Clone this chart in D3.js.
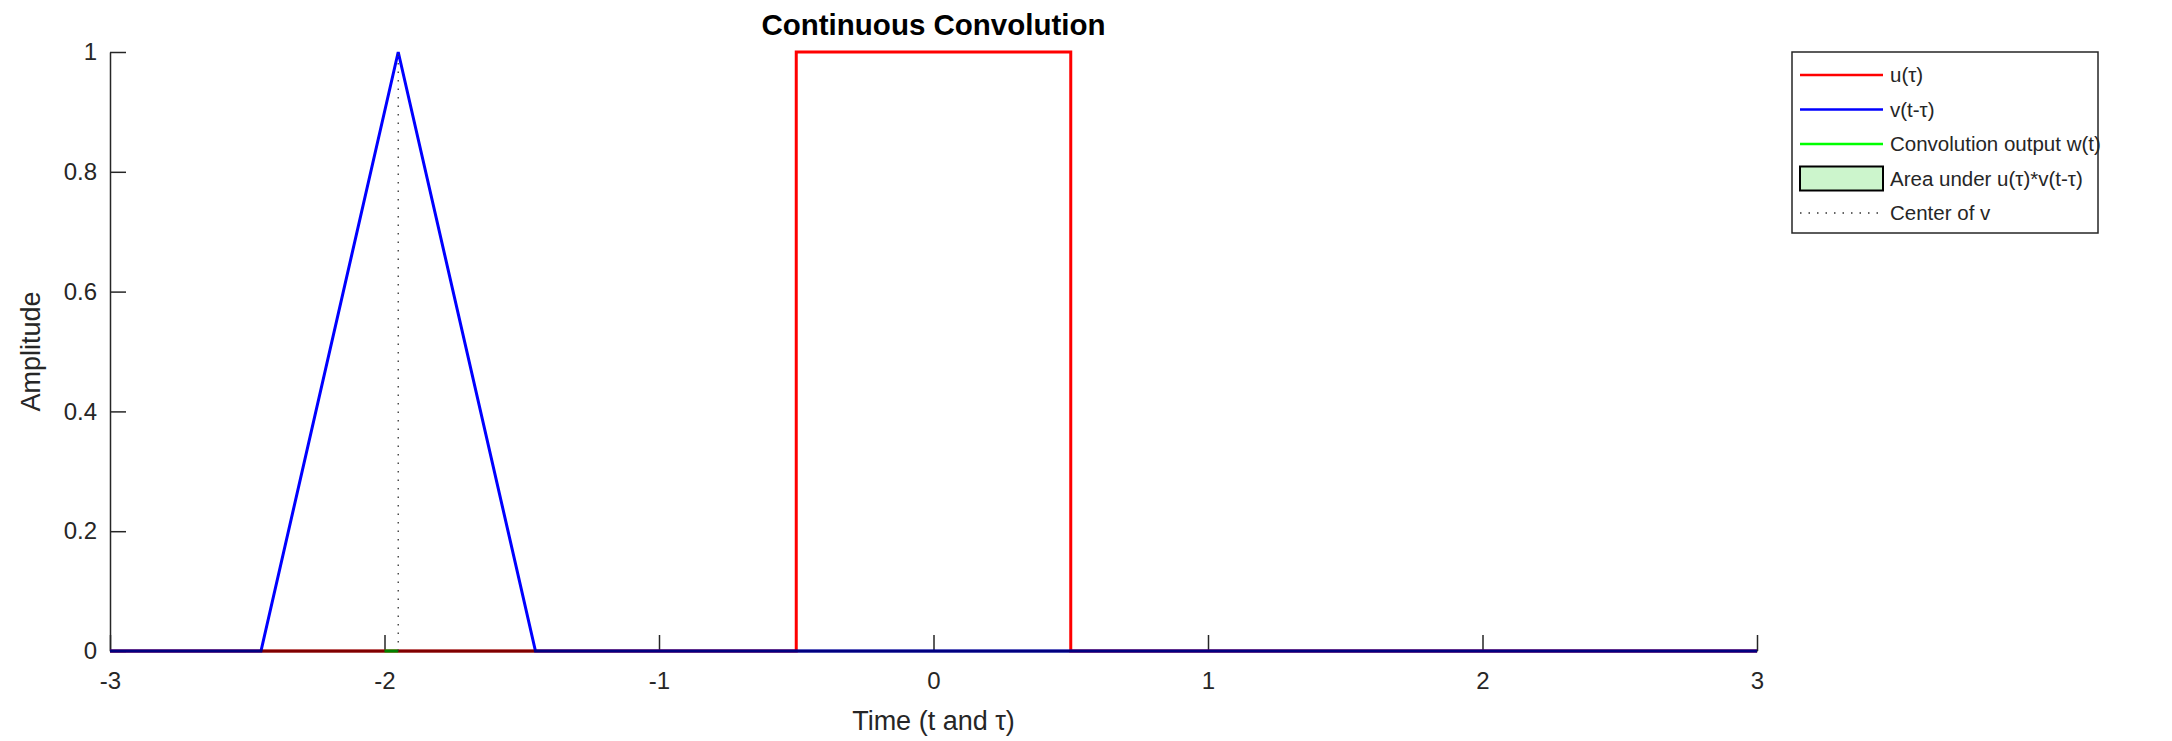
<!DOCTYPE html>
<html>
<head>
<meta charset="utf-8">
<script src="https://cdn.jsdelivr.net/npm/d3@7"></script>
<style>
  body { margin: 0; background: #fff; }
  text { font-family: "Liberation Sans", Arial, sans-serif; }
</style>
</head>
<body>
<svg id="chart"></svg>
<script>
// data
const xTicks = [-3, -2, -1, 0, 1, 2, 3];
const xTickLabels = ["-3", "-2", "-1", "0", "1", "2", "3"];
const yTicks = [0, 0.2, 0.4, 0.6, 0.8, 1];
const yTickLabels = ["0", "0.2", "0.4", "0.6", "0.8", "1"];

const uTau = [-3, -0.5, -0.5, 0.5, 0.5, 3];      // u(tau), rect pulse
const uVal = [0, 0, 1, 1, 0, 0];
const vTau = [-3, -2.45, -1.95, -1.45, 3];       // v(t - tau), triangle
const vVal = [0, 0, 1, 0, 0];
const wT = [-2, -1.95];                          // convolution output so far
const wVal = [0, 0];
const areaTau = [-3, 3];                         // u*v product (no overlap yet)
const areaVal = [0, 0];
const tNow = -1.95;

const legendLabels = ["u(\u03c4)", "v(t-\u03c4)", "Convolution output w(t)",
                      "Area under u(\u03c4)*v(t-\u03c4)", "Center of v"];

const width = 2172, height = 741;
const svg = d3.select("#chart").attr("width", width).attr("height", height);

const x = d3.scaleLinear().domain([-3, 3]).range([110, 1757]);
const y = d3.scaleLinear().domain([0, 1]).range([651, 52]);
const axisCol = "#262626";

function pts(xs, ys) { return xs.map((d, i) => [d, ys[i]]); }
const line = d3.line().x(d => x(d[0])).y(d => y(d[1]));

// axes (box off, ticks inward)
const xAxis = svg.append("g").attr("transform", `translate(0,${y(0)})`)
  .call(d3.axisBottom(x).tickValues(xTicks).tickFormat((d, i) => xTickLabels[i])
        .tickSizeInner(-16).tickSizeOuter(0).tickPadding(21));
const yAxis = svg.append("g").attr("transform", `translate(${x(-3)},0)`)
  .call(d3.axisLeft(y).tickValues(yTicks).tickFormat((d, i) => yTickLabels[i])
        .tickSizeInner(-16).tickSizeOuter(0).tickPadding(13));
[xAxis, yAxis].forEach(a => {
  a.select(".domain").attr("stroke", axisCol).attr("stroke-width", 1.5);
  a.selectAll(".tick line").attr("stroke", axisCol).attr("stroke-width", 1.5);
  a.selectAll(".tick text").attr("fill", axisCol).attr("font-size", 24)
    .attr("font-family", "Liberation Sans, Arial, sans-serif");
});

// series
svg.append("path").datum(pts(uTau, uVal)).attr("d", line)
  .attr("fill", "none").attr("stroke", "#ff0000").attr("stroke-width", 3);
svg.append("path").datum(pts(vTau, vVal)).attr("d", line)
  .attr("fill", "none").attr("stroke", "#0000ff").attr("stroke-width", 3);
svg.append("path").datum(pts(wT, wVal)).attr("d", line)
  .attr("fill", "none").attr("stroke", "#00ff00").attr("stroke-width", 3);

// area patch (flat here), semi transparent edge darkens what is below
const area = d3.area().x(d => x(d[0])).y0(y(0)).y1(d => y(d[1]));
svg.append("path").datum(pts(areaTau, areaVal)).attr("d", area)
  .attr("fill", "#00cc00").attr("fill-opacity", 0.2)
  .attr("stroke", "#000").attr("stroke-opacity", 0.5).attr("stroke-width", 3);

// center of v
svg.append("line").attr("x1", x(tNow)).attr("x2", x(tNow))
  .attr("y1", y(0)).attr("y2", y(1))
  .attr("stroke", "#333").attr("stroke-width", 1.3).attr("stroke-dasharray", "1.5,7");

// title and labels
svg.append("text").attr("x", (x(-3) + x(3)) / 2).attr("y", 35)
  .attr("text-anchor", "middle").attr("font-size", 29.5).attr("font-weight", "bold")
  .attr("fill", "#000").text("Continuous Convolution");
svg.append("text").attr("x", (x(-3) + x(3)) / 2).attr("y", 730)
  .attr("text-anchor", "middle").attr("font-size", 27).attr("fill", axisCol)
  .text("Time (t and \u03c4)");
svg.append("text").attr("transform", `translate(40,${(y(0) + y(1)) / 2}) rotate(-90)`)
  .attr("text-anchor", "middle").attr("font-size", 27).attr("fill", axisCol)
  .text("Amplitude");

// legend
const lg = svg.append("g");
lg.append("rect").attr("x", 1792).attr("y", 52).attr("width", 306).attr("height", 181)
  .attr("fill", "#fff").attr("stroke", axisCol).attr("stroke-width", 1.5);
const rowY = d3.scalePoint().domain(legendLabels).range([75, 213]);
const sw = [
  { c: "#ff0000", type: "line" },
  { c: "#0000ff", type: "line" },
  { c: "#00ff00", type: "line" },
  { c: "#ccf5cc", type: "box" },
  { c: "#333", type: "dot" }
];
legendLabels.forEach((lab, i) => {
  const cy = rowY(lab);
  const s = sw[i];
  if (s.type === "box") {
    lg.append("rect").attr("x", 1800).attr("y", cy - 12).attr("width", 83).attr("height", 24)
      .attr("fill", s.c).attr("stroke", "#000").attr("stroke-width", 2);
  } else {
    lg.append("line").attr("x1", 1800).attr("x2", 1883).attr("y1", cy).attr("y2", cy)
      .attr("stroke", s.c).attr("stroke-width", s.type === "dot" ? 1.3 : 2.5)
      .attr("stroke-dasharray", s.type === "dot" ? "1.5,7" : null);
  }
  lg.append("text").attr("x", 1890).attr("y", cy).attr("dy", "0.36em")
    .attr("font-size", 20.5).attr("fill", axisCol).text(lab);
});
</script>
</body>
</html>
